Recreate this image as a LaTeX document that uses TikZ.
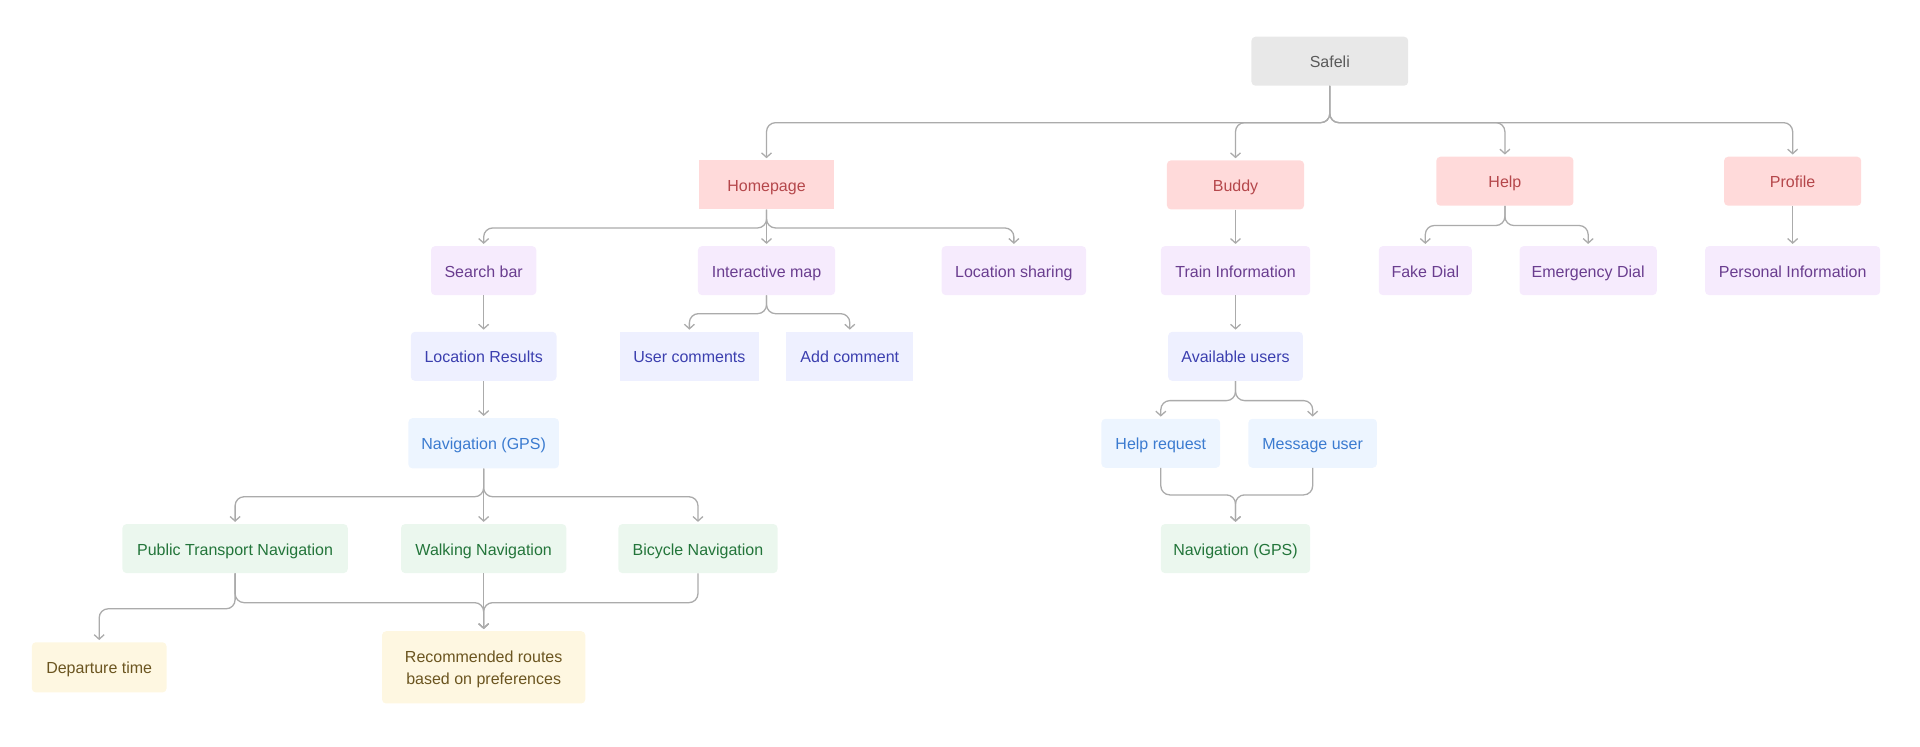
\documentclass[tikz,border=0pt]{standalone}
\usepackage{fontspec}
\setmainfont{Liberation Sans}
\usetikzlibrary{arrows.meta}
\definecolor{lnc}{HTML}{ABABAB}
\definecolor{grayF}{HTML}{E8E8E8}\definecolor{grayT}{HTML}{5A5A5A}
\definecolor{pinkF}{HTML}{FFDADA}\definecolor{pinkT}{HTML}{B5474B}
\definecolor{purF}{HTML}{F6EBFD}\definecolor{purT}{HTML}{6A3D8F}
\definecolor{indF}{HTML}{EEF0FF}\definecolor{indT}{HTML}{3B3FAF}
\definecolor{bluF}{HTML}{EDF5FF}\definecolor{bluT}{HTML}{3B7BD0}
\definecolor{grnF}{HTML}{EBF7EE}\definecolor{grnT}{HTML}{23753A}
\definecolor{ylwF}{HTML}{FEF7E1}\definecolor{ylwT}{HTML}{6B5520}
\tikzset{
  box/.style={rounded corners=4pt, inner sep=0pt, align=center, text height=13pt, text depth=0pt,
    font=\fontsize{16}{22}\selectfont},
  sharp/.style={sharp corners},
  sz/.style 2 args={minimum width=#1*1.2245pt, minimum height=#2*1.2245pt},
  gbox/.style={box, fill=grayF, text=grayT},
  pbox/.style={box, fill=pinkF, text=pinkT},
  ubox/.style={box, fill=purF, text=purT},
  ibox/.style={box, fill=indF, text=indT},
  bbox/.style={box, fill=bluF, text=bluT},
  nbox/.style={box, fill=grnF, text=grnT},
  ybox/.style={box, fill=ylwF, text=ylwT},
  conn/.style={draw=lnc, line width=1.3pt, rounded corners=9pt, shorten >=2pt,
    -{Straight Barb[length=4.5pt,width=10pt]}}
}
\begin{document}
\begin{tikzpicture}[x=1.2245pt,y=-1.2245pt]
\useasboundingbox (0,0) rectangle (1568,610);
% nodes
\node[gbox, sz={128}{40}] (safeli) at (1086,50) {Safeli};
\node[pbox, sharp, sz={111}{40}] (home) at (626,151) {Homepage};
\node[pbox, sz={112}{40}] (buddy) at (1009,151) {Buddy};
\node[pbox, sz={112}{40}] (help) at (1229,148) {Help};
\node[pbox, sz={112}{40}] (profile) at (1464,148) {Profile};
\node[ubox, sz={86}{40}] (search) at (395,221) {Search bar};
\node[ubox, sz={112}{40}] (imap) at (626,221) {Interactive map};
\node[ubox, sz={118}{40}] (lshare) at (828,221) {Location sharing};
\node[ubox, sz={122}{40}] (train) at (1009,221) {Train Information};
\node[ubox, sz={76}{40}] (fake) at (1164,221) {Fake Dial};
\node[ubox, sz={112}{40}] (emerg) at (1297,221) {Emergency Dial};
\node[ubox, sz={143}{40}] (pinfo) at (1464,221) {Personal Information};
\node[ibox, sz={119}{40}] (lres) at (395,291) {Location Results};
\node[ibox, sharp, sz={114}{40}] (ucom) at (563,291) {User comments};
\node[ibox, sharp, sz={104}{40}] (acom) at (694,291) {Add comment};
\node[ibox, sz={110}{40}] (avail) at (1009,291) {Available users};
\node[bbox, sz={123}{41}] (nav) at (395,362) {Navigation (GPS)};
\node[bbox, sz={97}{40}] (hreq) at (948,362) {Help request};
\node[bbox, sz={105}{40}] (msg) at (1072,362) {Message user};
\node[nbox, sz={122}{40}] (bnav) at (1009,448) {Navigation (GPS)};
\node[nbox, sz={184}{40}] (pt) at (192,448) {Public Transport Navigation};
\node[nbox, sz={135}{40}] (walk) at (395,448) {Walking Navigation};
\node[nbox, sz={130}{40}] (bike) at (570,448) {Bicycle Navigation};
\node[ybox, sz={110}{41}] (dep) at (81,545) {Departure time};
\node[ybox, sz={166}{59}, text height=35pt] (rec) at (395,545) {Recommended routes\\based on preferences};
% connectors
\draw[conn] (safeli.south) -- ++(0,30) -| (home.north);
\draw[conn] (safeli.south) -- ++(0,30) -| (buddy.north);
\draw[conn] (safeli.south) -- ++(0,30) -| (help.north);
\draw[conn] (safeli.south) -- ++(0,30) -| (profile.north);
\draw[conn] (home.south) -- ++(0,15) -| (search.north);
\draw[conn] (home.south) -- (imap.north);
\draw[conn] (home.south) -- ++(0,15) -| (lshare.north);
\draw[conn] (buddy.south) -- (train.north);
\draw[conn] (help.south) -- ++(0,16) -| (fake.north);
\draw[conn] (help.south) -- ++(0,16) -| (emerg.north);
\draw[conn] (profile.south) -- (pinfo.north);
\draw[conn] (search.south) -- (lres.north);
\draw[conn] (imap.south) -- ++(0,15) -| (ucom.north);
\draw[conn] (imap.south) -- ++(0,15) -| (acom.north);
\draw[conn] (train.south) -- (avail.north);
\draw[conn] (avail.south) -- ++(0,16) -| (hreq.north);
\draw[conn] (avail.south) -- ++(0,16) -| (msg.north);
\draw[conn] (hreq.south) -- ++(0,22) -| (bnav.north);
\draw[conn] (msg.south) -- ++(0,22) -| (bnav.north);
\draw[conn] (lres.south) -- (nav.north);
\draw[conn] (nav.south) -- ++(0,23) -| (pt.north);
\draw[conn] (nav.south) -- (walk.north);
\draw[conn] (nav.south) -- ++(0,23) -| (bike.north);
\draw[conn] (pt.south) -- ++(0,24) -| (rec.north);
\draw[conn] (walk.south) -- (rec.north);
\draw[conn] (bike.south) -- ++(0,24) -| (rec.north);
\draw[conn] (pt.south) -- ++(0,29) -| (dep.north);
\end{tikzpicture}
\end{document}
